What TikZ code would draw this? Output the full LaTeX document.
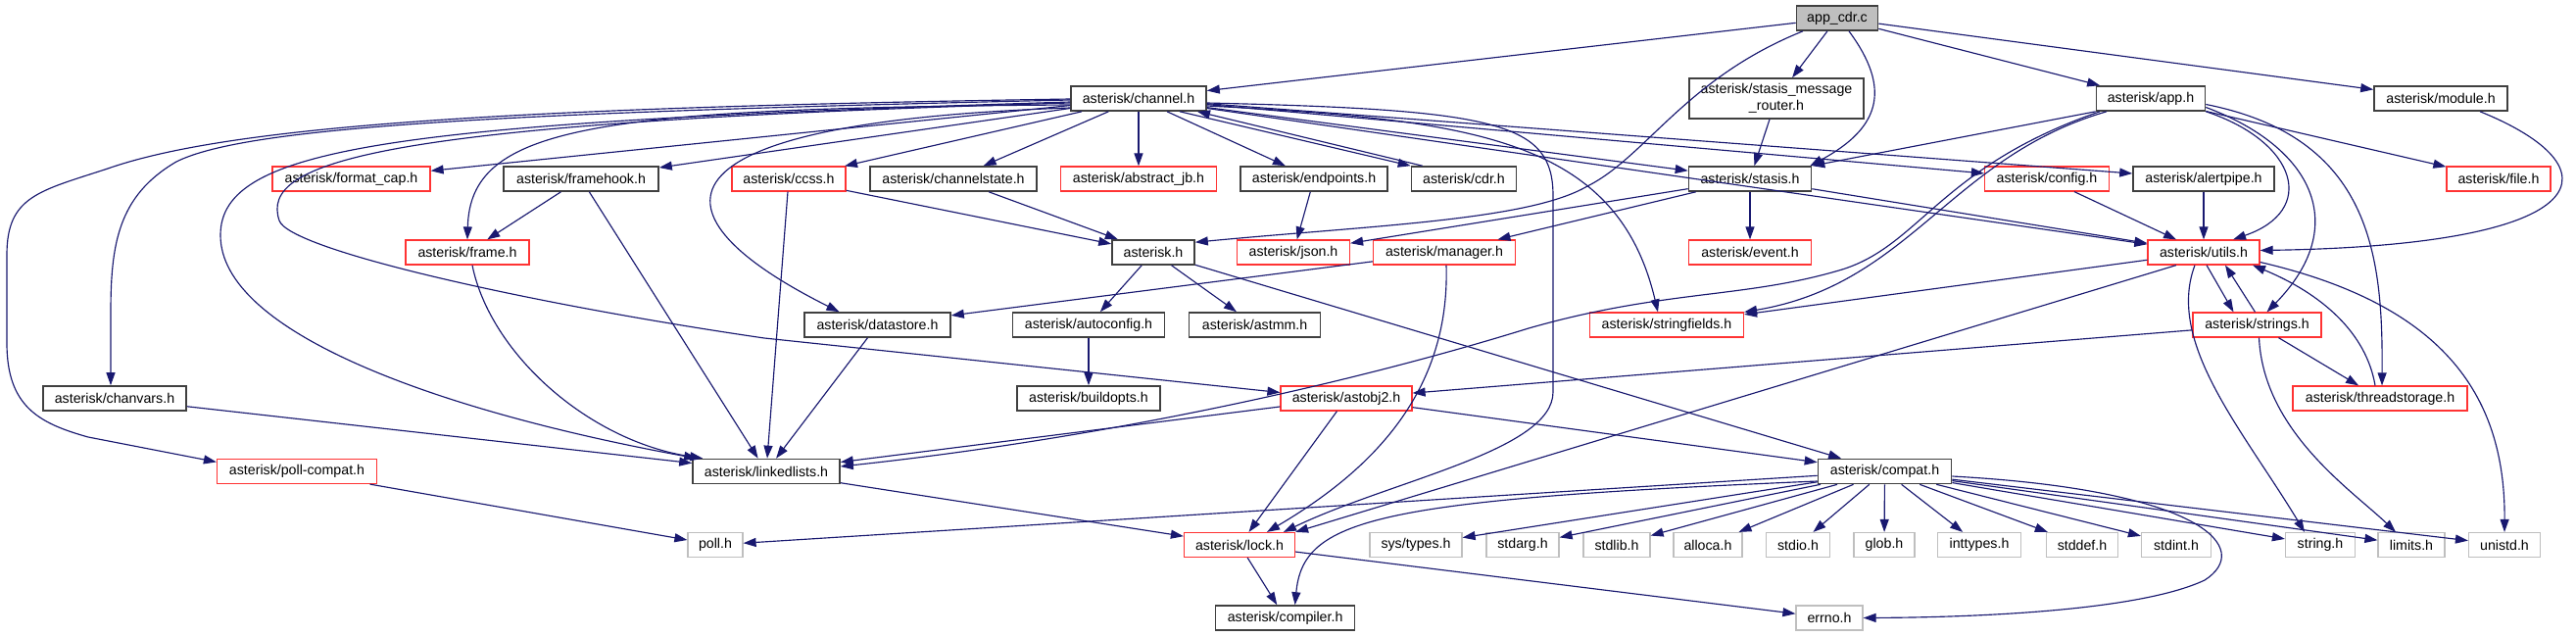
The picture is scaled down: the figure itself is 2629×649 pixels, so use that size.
\documentclass[tikz,border=0pt]{standalone}
\usepackage{fontspec}
\setmainfont{Liberation Sans}
\usetikzlibrary{arrows.meta}
\definecolor{eblue}{HTML}{191970}
\definecolor{redb}{HTML}{FF3333}
\definecolor{grayb}{HTML}{BFBFBF}
\definecolor{blkb}{HTML}{404040}
\begin{document}
\begin{tikzpicture}[x=1pt,y=-1pt,
  box/.style={rectangle,inner sep=0pt,minimum height=25pt,line width=1.2pt,fill=white,
    font=\fontsize{14.2}{17}\selectfont,text=black},
  blk/.style={box,draw=blkb,line width=1.6pt},
  redn/.style={box,draw=redb},
  sysn/.style={box,draw=grayb},
  root/.style={box,draw=blkb,line width=1.6pt,fill=grayb},
  e/.style={draw=eblue,line width=1.15pt,-{Triangle[length=13pt,width=9pt]}}]
\fill[white] (0,0) rectangle (2629,649);
\useasboundingbox (0,0) rectangle (2629,649);
% row 0-1
\node[root,minimum width=83] (acdr) at (1875,18.5) {app\_cdr.c};
\node[blk,minimum width=138] (ch) at (1162,100.5) {asterisk/channel.h};
\node[blk,minimum width=178,minimum height=41,align=center] (smr) at (1813,100.5) {asterisk/stasis\_message\\\_router.h};
\node[blk,minimum width=111] (app) at (2195,100.5) {asterisk/app.h};
\node[blk,minimum width=136] (mod) at (2491,100.5) {asterisk/module.h};
% row 2
\node[redn,minimum width=161] (fcap) at (358.5,182.5) {asterisk/format\_cap.h};
\node[blk,minimum width=158] (fhook) at (593,182.5) {asterisk/framehook.h};
\node[redn,minimum width=116] (ccss) at (805,182.5) {asterisk/ccss.h};
\node[blk,minimum width=170] (cstate) at (973,182.5) {asterisk/channelstate.h};
\node[redn,minimum width=159] (ajb) at (1162,182.5) {asterisk/abstract\_jb.h};
\node[blk,minimum width=150] (endp) at (1341,182.5) {asterisk/endpoints.h};
\node[blk,minimum width=107] (cdr) at (1494,182.5) {asterisk/cdr.h};
\node[blk,minimum width=125] (stasis) at (1786,182.5) {asterisk/stasis.h};
\node[redn,minimum width=127] (config) at (2089,182.5) {asterisk/config.h};
\node[blk,minimum width=144] (alert) at (2249,182.5) {asterisk/alertpipe.h};
\node[redn,minimum width=106] (file) at (2550,182.5) {asterisk/file.h};
% row 3
\node[redn,minimum width=126] (frame) at (477,257.5) {asterisk/frame.h};
\node[blk,minimum width=84] (ast) at (1177,257.5) {asterisk.h};
\node[redn,minimum width=115] (json) at (1320,257.5) {asterisk/json.h};
\node[redn,minimum width=145] (mgr) at (1474,257.5) {asterisk/manager.h};
\node[redn,minimum width=125] (event) at (1786,257.5) {asterisk/event.h};
\node[redn,minimum width=114] (utils) at (2249,257.5) {asterisk/utils.h};
% row 4
\node[blk,minimum width=149] (dstore) at (895.5,331.5) {asterisk/datastore.h};
\node[blk,minimum width=155] (autoc) at (1111,331.5) {asterisk/autoconfig.h};
\node[blk,minimum width=134] (astmm) at (1280.6,331.5) {asterisk/astmm.h};
\node[redn,minimum width=157] (sfields) at (1701,331.5) {asterisk/stringfields.h};
\node[redn,minimum width=131] (strings) at (2303.5,331.5) {asterisk/strings.h};
% row 5
\node[blk,minimum width=146] (chanv) at (117,406.5) {asterisk/chanvars.h};
\node[blk,minimum width=146] (bopts) at (1111,406.5) {asterisk/buildopts.h};
\node[redn,minimum width=134] (ao2) at (1374,406.5) {asterisk/astobj2.h};
\node[redn,minimum width=178] (tstor) at (2429,406.5) {asterisk/threadstorage.h};
% row 6
\node[redn,minimum width=163] (pollc) at (303,481) {asterisk/poll-compat.h};
\node[blk,minimum width=150] (llists) at (782,481) {asterisk/linkedlists.h};
\node[blk,minimum width=136] (compat) at (1923.5,481) {asterisk/compat.h};
% row 7
\node[sysn,minimum width=56] (poll) at (730,556) {poll.h};
\node[redn,minimum width=113] (lock) at (1265,556) {asterisk/lock.h};
\node[sysn,minimum width=94] (systypes) at (1445,556) {sys/types.h};
\node[sysn,minimum width=74] (stdarg) at (1554,556) {stdarg.h};
\node[sysn,minimum width=68] (stdlib) at (1650,556) {stdlib.h};
\node[sysn,minimum width=70] (alloca) at (1743,556) {alloca.h};
\node[sysn,minimum width=65] (stdio) at (1835,556) {stdio.h};
\node[sysn,minimum width=62] (glob) at (1923,556) {glob.h};
\node[sysn,minimum width=85] (inttypes) at (2020,556) {inttypes.h};
\node[sysn,minimum width=73] (stddef) at (2125,556) {stddef.h};
\node[sysn,minimum width=71] (stdint) at (2221,556) {stdint.h};
\node[sysn,minimum width=71] (stringh) at (2368,556) {string.h};
\node[sysn,minimum width=68] (limits) at (2461,556) {limits.h};
\node[sysn,minimum width=73] (unistd) at (2556,556) {unistd.h};
% row 8
\node[blk,minimum width=142] (comp) at (1311.6,630.5) {asterisk/compiler.h};
\node[sysn,minimum width=68] (errno) at (1867,630.5) {errno.h};

% ---- edges from app_cdr.c
\draw[e] (acdr) -- (ch);
\draw[e] ([xshift=-35]acdr.south) .. controls (1720,80) and (1680,160) .. (1620,190) .. controls (1560,225) and (1400,230) .. ([yshift=-3]ast.north east);
\draw[e] (acdr) -- (smr);
\draw[e] ([xshift=12]acdr.south) .. controls (1930,90) and (1920,130) .. ([xshift=-2]stasis.north east);
\draw[e] (acdr) -- (app);
\draw[e] (acdr) -- (mod);
% ---- edges from channel.h
\draw[e] (ch) -- (fcap);
\draw[e] (ch) -- (fhook);
\draw[e] (ch) -- (ccss);
\draw[e] (ch) -- (cstate);
\draw[e] (ch) -- (ajb);
\draw[e] (ch) -- (endp);
\draw[e] ([xshift=42]ch.south) -- (cdr.north west);
\draw[e] ([xshift=12]cdr.north west) -- ([xshift=60]ch.south);
\draw[e] (ch) -- (stasis);
\draw[e] (ch) -- (config);
\draw[e] (ch) -- (alert);
\draw[e] (ch) -- (utils);
\draw[e] ([yshift=-7.5]ch.east) .. controls (1500,122) and (1650,140) .. ([xshift=-9]sfields.north);
\draw[e] ([yshift=-4.5]ch.east) .. controls (1530,112) and (1585,125) .. (1585,200) -- (1585,400) .. controls (1585,460) and (1420,490) .. ([xshift=45]lock.north);
\draw[e] ([yshift=-9.5]ch.west) .. controls (650,125) and (660,220) .. ([xshift=-39]dstore.north);
\draw[e] ([yshift=-3.5]ch.west) .. controls (400,125) and (225,150) .. (225,240) .. controls (225,340) and (450,420) .. ([xshift=5]llists.north west);
\draw[e] ([yshift=-4.5]ch.west) .. controls (380,125) and (265,165) .. (285,225) .. controls (295,255) and (540,310) .. (780,345) -- ([yshift=6]ao2.west);
\draw[e] ([yshift=-6.5]ch.west) .. controls (600,110) and (480,130) .. (frame.north);
\draw[e] ([yshift=-1.5]ch.west) .. controls (500,115) and (250,130) .. (180,165) .. controls (120,200) and (113,250) .. (113,320) -- ([xshift=-4]chanv.north);
\draw[e] ([yshift=-0.5]ch.west) .. controls (500,110) and (230,130) .. (110,172) .. controls (40,195) and (7,200) .. (7,260) -- (7,350) .. controls (7,415) and (40,432) .. (90,446) -- ([yshift=-3.5]pollc.north west);
% ---- other
\draw[e] (smr) -- (stasis);
\draw[e] (app.south west) -- (stasis.north east);
\draw[e] ([xshift=-45]app.south) .. controls (1990,160) and (1950,290) .. (sfields.north east);
\draw[e] ([xshift=-52]app.south) .. controls (1980,170) and (1960,250) .. (1880,275) .. controls (1780,305) and (1700,295) .. (1560,335) .. controls (1350,400) and (1100,450) .. ([yshift=5]llists.east);
\draw[e] (app.south east) .. controls (2345,145) and (2365,215) .. ([xshift=30]utils.north);
\draw[e] ([yshift=-9]app.east) .. controls (2360,150) and (2400,230) .. ([xshift=10]strings.north);
\draw[e] ([yshift=-6]app.east) .. controls (2420,140) and (2432,260) .. ([xshift=2]tstor.north);
\draw[e] (app) -- (file);
\draw[e] ([xshift=40]mod.south) .. controls (2670,170) and (2660,250) .. ([yshift=2]utils.east);
\draw[e] (fhook) -- (frame);
\draw[e] (fhook) -- (llists);
\draw[e] (ccss) -- (ast);
\draw[e] (ccss) -- (llists);
\draw[e] (cstate) -- (ast);
\draw[e] (endp) -- (json);
\draw[e] (stasis) -- (json);
\draw[e] (stasis) -- (mgr);
\draw[e] (stasis) -- (event);
\draw[e] (stasis) -- (utils);
\draw[e] (config) -- (utils);
\draw[e] (alert) -- (utils);
\draw[e] ([xshift=5]frame.south) .. controls (500,360) and (600,450) .. ([xshift=11]llists.north west);
\draw[e] (ast) -- (autoc);
\draw[e] (ast) -- (astmm);
\draw[e] (ast) -- (compat);
\draw[e] (autoc) -- (bopts);
\draw[e] (mgr) -- (dstore);
\draw[e] ([xshift=2]mgr.south) .. controls (1480,400) and (1400,480) .. ([xshift=28]lock.north);
\draw[e] (utils) -- (sfields);
\draw[e] ([xshift=-28]utils.south) -- (lock.north east);
\draw[e] ([xshift=3]utils.south) -- ([xshift=-24]strings.north);
\draw[e] ([xshift=-2]strings.north) -- ([xshift=22]utils.south);
\draw[e] ([xshift=-9]utils.south) .. controls (2210,350) and (2290,440) .. ([xshift=-16]stringh.north);
\draw[e] ([yshift=-10]utils.east) .. controls (2490,310) and (2557,400) .. (unistd.north);
\draw[e] ([xshift=-5]tstor.north) .. controls (2415,340) and (2370,300) .. ([xshift=50]utils.south);
\draw[e] (strings) -- (tstor);
\draw[e] (strings) -- (ao2);
\draw[e] ([xshift=2]strings.south) .. controls (2310,440) and (2400,500) .. ([xshift=-16]limits.north);
\draw[e] (dstore) -- (llists);
\draw[e] (chanv) -- (llists);
\draw[e] (ao2) -- (llists);
\draw[e] (ao2) -- (lock);
\draw[e] (ao2) -- (compat);
\draw[e] (llists) -- (lock);
\draw[e] (pollc) -- (poll);
\draw[e] (compat) -- (poll);
\draw[e] ([yshift=-10]compat.west) .. controls (1400,510) and (1330,530) .. ([xshift=10]comp.north);
\foreach \t in {systypes,stdarg,stdlib,alloca,stdio,glob,inttypes,stddef,stdint,stringh,limits,unistd}
  \draw[e] (compat) -- (\t);
\draw[e] ([yshift=-5]compat.east) .. controls (2250,500) and (2300,560) .. (2250,592) .. controls (2180,625) and (2000,630) .. (errno.east);
\draw[e] (lock) -- (comp);
\draw[e] (lock) -- (errno);
\end{tikzpicture}
\end{document}
